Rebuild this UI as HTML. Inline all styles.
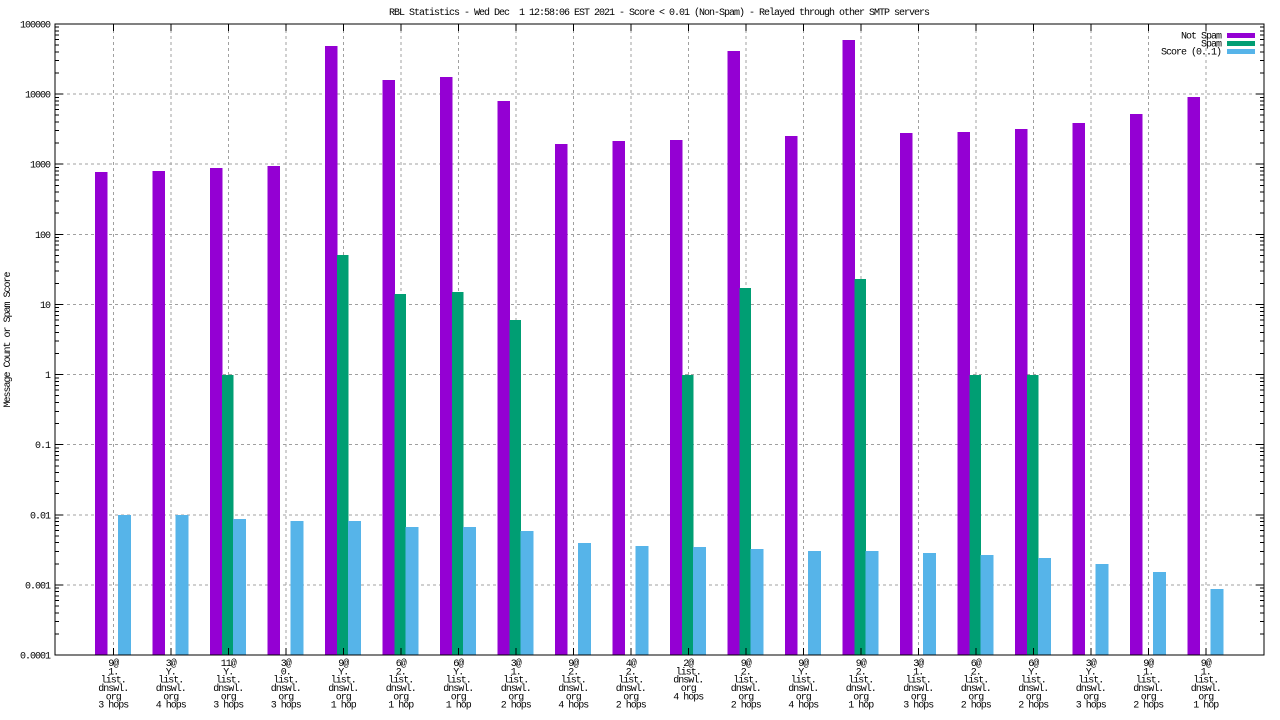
<!DOCTYPE html>
<html>
<head>
<meta charset="utf-8">
<style>
html,body{margin:0;padding:0;background:#fff;}
svg{display:block;}
text{font-family:"Liberation Mono","DejaVu Sans Mono",monospace;font-size:10px;letter-spacing:-1px;fill:#000;}
</style>
</head>
<body>
<svg width="1280" height="720" viewBox="0 0 1280 720" xmlns="http://www.w3.org/2000/svg">
<defs>
  <g id="decL">
    <path d="M55 -21.1H59M55 -33.45H59M55 -42.2H59M55 -49H59M55 -54.55H59M55 -59.25H59M55 -63.3H59M55 -66.9H59" stroke="#000" stroke-width="1" fill="none"/>
    <path d="M1264 -21.1H1260M1264 -33.45H1260M1264 -42.2H1260M1264 -49H1260M1264 -54.55H1260M1264 -59.25H1260M1264 -63.3H1260M1264 -66.9H1260" stroke="#000" stroke-width="1" fill="none"/>
  </g>
</defs>
<rect width="1280" height="720" fill="#fff"/>

<!-- title -->
<text x="659" y="15" text-anchor="middle" style="white-space:pre">RBL Statistics - Wed Dec  1 12:58:06 EST 2021 - Score &lt; 0.01 (Non-Spam) - Relayed through other SMTP servers</text>

<!-- grid -->
<g stroke="#a0a0a0" stroke-width="1" stroke-dasharray="3,3" fill="none" shape-rendering="crispEdges">
  <path d="M55 94.1H1264M55 164.2H1264M55 234.3H1264M55 304.4H1264M55 374.6H1264M55 444.7H1264M55 514.8H1264M55 584.9H1264"/>
  <path d="M113.3 24V655M170.8 24V655M228.3 24V655M285.8 24V655M343.3 24V655M400.8 24V655M458.3 24V655M515.8 24V655M573.3 24V655M630.8 24V655M688.3 24V655M745.8 24V655M803.3 24V655M860.8 24V655M918.3 24V655M975.8 24V655M1033.3 24V655M1090.8 24V655M1148.3 24V655M1205.8 24V655"/>
</g>

<!-- bars -->
<g shape-rendering="crispEdges">
<g fill="#9400d3">
  <rect x="95" y="172" width="12.5" height="483"/>
  <rect x="152.5" y="171" width="12.5" height="484"/>
  <rect x="210" y="168" width="12.5" height="487"/>
  <rect x="267.5" y="166" width="12.5" height="489"/>
  <rect x="325" y="46" width="12.5" height="609"/>
  <rect x="382.5" y="80" width="12.5" height="575"/>
  <rect x="440" y="77" width="12.5" height="578"/>
  <rect x="497.5" y="101" width="12.5" height="554"/>
  <rect x="555" y="144" width="12.5" height="511"/>
  <rect x="612.5" y="141" width="12.5" height="514"/>
  <rect x="670" y="140" width="12.5" height="515"/>
  <rect x="727.5" y="51" width="12.5" height="604"/>
  <rect x="785" y="136" width="12.5" height="519"/>
  <rect x="842.5" y="40" width="12.5" height="615"/>
  <rect x="900" y="133" width="12.5" height="522"/>
  <rect x="957.5" y="132" width="12.5" height="523"/>
  <rect x="1015" y="129" width="12.5" height="526"/>
  <rect x="1072.5" y="123" width="12.5" height="532"/>
  <rect x="1130" y="114" width="12.5" height="541"/>
  <rect x="1187.5" y="97" width="12.5" height="558"/>
</g>
<g fill="#009e73">
  <rect x="222" y="375" width="11.5" height="280"/>
  <rect x="337" y="255" width="11.5" height="400"/>
  <rect x="394.5" y="294" width="11.5" height="361"/>
  <rect x="452" y="292" width="11.5" height="363"/>
  <rect x="509.5" y="320" width="11.5" height="335"/>
  <rect x="682" y="375" width="11.5" height="280"/>
  <rect x="739.5" y="288" width="11.5" height="367"/>
  <rect x="854.5" y="279" width="11.5" height="376"/>
  <rect x="969.5" y="375" width="11.5" height="280"/>
  <rect x="1027" y="375" width="11.5" height="280"/>
</g>
<g fill="#56b4e9">
  <rect x="118.1" y="515" width="12.9" height="140"/>
  <rect x="175.6" y="515" width="12.9" height="140"/>
  <rect x="233.1" y="519" width="12.9" height="136"/>
  <rect x="290.6" y="521" width="12.9" height="134"/>
  <rect x="348.1" y="521" width="12.9" height="134"/>
  <rect x="405.6" y="527" width="12.9" height="128"/>
  <rect x="463.1" y="527" width="12.9" height="128"/>
  <rect x="520.6" y="531" width="12.9" height="124"/>
  <rect x="578.1" y="543" width="12.9" height="112"/>
  <rect x="635.6" y="546" width="12.9" height="109"/>
  <rect x="693.1" y="547" width="12.9" height="108"/>
  <rect x="750.6" y="549" width="12.9" height="106"/>
  <rect x="808.1" y="551" width="12.9" height="104"/>
  <rect x="865.6" y="551" width="12.9" height="104"/>
  <rect x="923.1" y="553" width="12.9" height="102"/>
  <rect x="980.6" y="555" width="12.9" height="100"/>
  <rect x="1038.1" y="558" width="12.9" height="97"/>
  <rect x="1095.6" y="564" width="12.9" height="91"/>
  <rect x="1153.1" y="572" width="12.9" height="83"/>
  <rect x="1210.6" y="589" width="12.9" height="66"/>
</g>
</g>

<!-- ticks -->
<g shape-rendering="crispEdges">
  <use href="#decL" transform="translate(0,94.1)"/>
  <use href="#decL" transform="translate(0,164.2)"/>
  <use href="#decL" transform="translate(0,234.3)"/>
  <use href="#decL" transform="translate(0,304.4)"/>
  <use href="#decL" transform="translate(0,374.6)"/>
  <use href="#decL" transform="translate(0,444.7)"/>
  <use href="#decL" transform="translate(0,514.8)"/>
  <use href="#decL" transform="translate(0,584.9)"/>
  <use href="#decL" transform="translate(0,655)"/>
  <path stroke="#000" stroke-width="1" fill="none" d="M55 24H63M55 94.1H63M55 164.2H63M55 234.3H63M55 304.4H63M55 374.6H63M55 444.7H63M55 514.8H63M55 584.9H63M55 655H63M1264 24H1256M1264 94.1H1256M1264 164.2H1256M1264 234.3H1256M1264 304.4H1256M1264 374.6H1256M1264 444.7H1256M1264 514.8H1256M1264 584.9H1256M1264 655H1256"/>
  <path stroke="#000" stroke-width="1" fill="none" d="M113.3 655V648M170.8 655V648M228.3 655V648M285.8 655V648M343.3 655V648M400.8 655V648M458.3 655V648M515.8 655V648M573.3 655V648M630.8 655V648M688.3 655V648M745.8 655V648M803.3 655V648M860.8 655V648M918.3 655V648M975.8 655V648M1033.3 655V648M1090.8 655V648M1148.3 655V648M1205.8 655V648M113.3 24V31M170.8 24V31M228.3 24V31M285.8 24V31M343.3 24V31M400.8 24V31M458.3 24V31M515.8 24V31M573.3 24V31M630.8 24V31M688.3 24V31M745.8 24V31M803.3 24V31M860.8 24V31M918.3 24V31M975.8 24V31M1033.3 24V31M1090.8 24V31M1148.3 24V31M1205.8 24V31"/>
  <rect x="55" y="24" width="1209" height="631" fill="none" stroke="#000" stroke-width="1"/>
</g>

<!-- y tick labels -->
<g text-anchor="end">
  <text x="50" y="27.5">100000</text>
  <text x="50" y="97.6">10000</text>
  <text x="50" y="167.7">1000</text>
  <text x="50" y="237.8">100</text>
  <text x="50" y="307.9">10</text>
  <text x="50" y="378.1">1</text>
  <text x="50" y="448.2">0.1</text>
  <text x="50" y="518.3">0.01</text>
  <text x="50" y="588.4">0.001</text>
  <text x="50" y="658.5">0.0001</text>
</g>

<!-- y axis title -->
<text transform="translate(10,340) rotate(-90)" text-anchor="middle">Message Count or Spam Score</text>

<!-- legend -->
<g text-anchor="end">
  <text x="1221" y="38.5">Not Spam</text>
  <text x="1221" y="46.5">Spam</text>
  <text x="1221" y="54.5">Score (0..1)</text>
</g>
<g shape-rendering="crispEdges">
  <rect x="1227" y="33" width="28" height="5" fill="#9400d3"/>
  <rect x="1227" y="41" width="28" height="5" fill="#009e73"/>
  <rect x="1227" y="49" width="28" height="5" fill="#56b4e9"/>
</g>

<!-- x labels -->
<g text-anchor="middle">
  <text x="113.3" y="666">9@</text><text x="113.3" y="674.3">1.</text><text x="113.3" y="682.6">list.</text><text x="113.3" y="691">dnswl.</text><text x="113.3" y="699.3">org</text><text x="113.3" y="707.6">3 hops</text>
  <text x="170.8" y="666">3@</text><text x="170.8" y="674.3">Y.</text><text x="170.8" y="682.6">list.</text><text x="170.8" y="691">dnswl.</text><text x="170.8" y="699.3">org</text><text x="170.8" y="707.6">4 hops</text>
  <text x="228.3" y="666">11@</text><text x="228.3" y="674.3">Y.</text><text x="228.3" y="682.6">list.</text><text x="228.3" y="691">dnswl.</text><text x="228.3" y="699.3">org</text><text x="228.3" y="707.6">3 hops</text>
  <text x="285.8" y="666">3@</text><text x="285.8" y="674.3">0.</text><text x="285.8" y="682.6">list.</text><text x="285.8" y="691">dnswl.</text><text x="285.8" y="699.3">org</text><text x="285.8" y="707.6">3 hops</text>
  <text x="343.3" y="666">9@</text><text x="343.3" y="674.3">Y.</text><text x="343.3" y="682.6">list.</text><text x="343.3" y="691">dnswl.</text><text x="343.3" y="699.3">org</text><text x="343.3" y="707.6">1 hop</text>
  <text x="400.8" y="666">6@</text><text x="400.8" y="674.3">2.</text><text x="400.8" y="682.6">list.</text><text x="400.8" y="691">dnswl.</text><text x="400.8" y="699.3">org</text><text x="400.8" y="707.6">1 hop</text>
  <text x="458.3" y="666">6@</text><text x="458.3" y="674.3">Y.</text><text x="458.3" y="682.6">list.</text><text x="458.3" y="691">dnswl.</text><text x="458.3" y="699.3">org</text><text x="458.3" y="707.6">1 hop</text>
  <text x="515.8" y="666">3@</text><text x="515.8" y="674.3">1.</text><text x="515.8" y="682.6">list.</text><text x="515.8" y="691">dnswl.</text><text x="515.8" y="699.3">org</text><text x="515.8" y="707.6">2 hops</text>
  <text x="573.3" y="666">9@</text><text x="573.3" y="674.3">2.</text><text x="573.3" y="682.6">list.</text><text x="573.3" y="691">dnswl.</text><text x="573.3" y="699.3">org</text><text x="573.3" y="707.6">4 hops</text>
  <text x="630.8" y="666">4@</text><text x="630.8" y="674.3">2.</text><text x="630.8" y="682.6">list.</text><text x="630.8" y="691">dnswl.</text><text x="630.8" y="699.3">org</text><text x="630.8" y="707.6">2 hops</text>
  <text x="688.3" y="666">2@</text><text x="688.3" y="674.3">list.</text><text x="688.3" y="682.6">dnswl.</text><text x="688.3" y="691">org</text><text x="688.3" y="699.3">4 hops</text>
  <text x="745.8" y="666">9@</text><text x="745.8" y="674.3">2.</text><text x="745.8" y="682.6">list.</text><text x="745.8" y="691">dnswl.</text><text x="745.8" y="699.3">org</text><text x="745.8" y="707.6">2 hops</text>
  <text x="803.3" y="666">9@</text><text x="803.3" y="674.3">Y.</text><text x="803.3" y="682.6">list.</text><text x="803.3" y="691">dnswl.</text><text x="803.3" y="699.3">org</text><text x="803.3" y="707.6">4 hops</text>
  <text x="860.8" y="666">9@</text><text x="860.8" y="674.3">2.</text><text x="860.8" y="682.6">list.</text><text x="860.8" y="691">dnswl.</text><text x="860.8" y="699.3">org</text><text x="860.8" y="707.6">1 hop</text>
  <text x="918.3" y="666">3@</text><text x="918.3" y="674.3">1.</text><text x="918.3" y="682.6">list.</text><text x="918.3" y="691">dnswl.</text><text x="918.3" y="699.3">org</text><text x="918.3" y="707.6">3 hops</text>
  <text x="975.8" y="666">6@</text><text x="975.8" y="674.3">2.</text><text x="975.8" y="682.6">list.</text><text x="975.8" y="691">dnswl.</text><text x="975.8" y="699.3">org</text><text x="975.8" y="707.6">2 hops</text>
  <text x="1033.3" y="666">6@</text><text x="1033.3" y="674.3">Y.</text><text x="1033.3" y="682.6">list.</text><text x="1033.3" y="691">dnswl.</text><text x="1033.3" y="699.3">org</text><text x="1033.3" y="707.6">2 hops</text>
  <text x="1090.8" y="666">3@</text><text x="1090.8" y="674.3">Y.</text><text x="1090.8" y="682.6">list.</text><text x="1090.8" y="691">dnswl.</text><text x="1090.8" y="699.3">org</text><text x="1090.8" y="707.6">3 hops</text>
  <text x="1148.3" y="666">9@</text><text x="1148.3" y="674.3">1.</text><text x="1148.3" y="682.6">list.</text><text x="1148.3" y="691">dnswl.</text><text x="1148.3" y="699.3">org</text><text x="1148.3" y="707.6">2 hops</text>
  <text x="1205.8" y="666">9@</text><text x="1205.8" y="674.3">1.</text><text x="1205.8" y="682.6">list.</text><text x="1205.8" y="691">dnswl.</text><text x="1205.8" y="699.3">org</text><text x="1205.8" y="707.6">1 hop</text>
</g>
</svg>
</body>
</html>
